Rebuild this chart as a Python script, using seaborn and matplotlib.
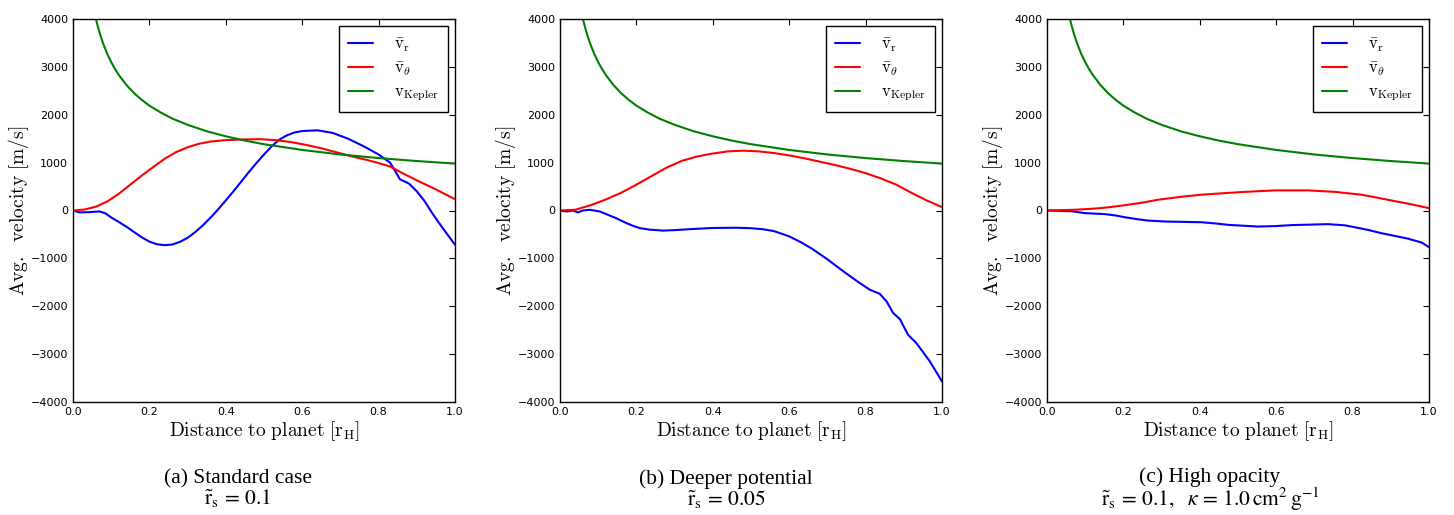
import numpy as np
import pandas as pd
import seaborn as sns
import matplotlib.pyplot as plt

# %%
# --- données ---
# vitesse képlérienne (identique pour les 3 cas)
x_kep = [0.055, 0.06, 0.065, 0.07, 0.075, 0.08, 0.09, 0.10, 0.11, 0.12, 0.14, 0.16, 0.18,
         0.20, 0.23, 0.26, 0.30, 0.35, 0.40, 0.45, 0.50, 0.60, 0.70, 0.80, 0.90, 1.00]
v_kep = [4180, 4000, 3845, 3705, 3580, 3465, 3265, 3100, 2955, 2830, 2620, 2450, 2310,
         2190, 2045, 1920, 1790, 1655, 1550, 1460, 1385, 1265, 1170, 1095, 1033, 980]

# (a) Standard case
xa_r = [0.0, 0.017, 0.04, 0.07, 0.085, 0.10, 0.12, 0.14, 0.16, 0.18, 0.20, 0.22, 0.24,
        0.26, 0.28, 0.30, 0.32, 0.34, 0.36, 0.38, 0.40, 0.42, 0.44, 0.46, 0.48, 0.50,
        0.52, 0.54, 0.56, 0.58, 0.60, 0.64, 0.68, 0.72, 0.76, 0.80, 0.83, 0.84, 0.856,
        0.87, 0.88, 0.90, 0.92, 0.94, 0.96, 0.98, 1.0]
va_r = [0, -40, -35, -20, -60, -145, -240, -340, -450, -560, -650, -705, -725,
        -710, -655, -570, -450, -310, -150, 25, 210, 400, 600, 800, 990, 1170,
        1340, 1480, 1570, 1630, 1660, 1675, 1620, 1500, 1345, 1170, 1000, 870, 650,
        600, 560, 400, 200, -50, -280, -500, -715]
xa_t = [0.0, 0.03, 0.06, 0.09, 0.12, 0.15, 0.18, 0.20, 0.24, 0.27, 0.30, 0.33, 0.36,
        0.40, 0.45, 0.49, 0.53, 0.57, 0.61, 0.65, 0.69, 0.73, 0.77, 0.80, 0.83, 0.86,
        0.90, 0.95, 1.0]
va_t = [0, 20, 80, 190, 350, 540, 730, 850, 1080, 1220, 1320, 1395, 1440,
        1470, 1485, 1490, 1470, 1430, 1370, 1300, 1215, 1130, 1055, 990, 920, 790,
        630, 440, 235]

# (b) Deeper potential
xb_r = [0.0, 0.017, 0.034, 0.047, 0.06, 0.078, 0.104, 0.147, 0.17, 0.191, 0.21, 0.235,
        0.27, 0.30, 0.34, 0.40, 0.46, 0.50, 0.53, 0.56, 0.60, 0.63, 0.66, 0.70, 0.74,
        0.78, 0.811, 0.837, 0.855, 0.872, 0.89, 0.911, 0.933, 0.968, 1.0]
vb_r = [0, -20, 0, -40, 0, 15, -20, -160, -250, -320, -370, -400,
        -420, -410, -390, -365, -360, -370, -390, -430, -540, -660, -800, -1020, -1260,
        -1490, -1655, -1740, -1900, -2140, -2270, -2595, -2770, -3150, -3570]
xb_t = [0.0, 0.04, 0.08, 0.12, 0.16, 0.20, 0.24, 0.28, 0.32, 0.36, 0.40, 0.44, 0.48,
        0.52, 0.56, 0.60, 0.64, 0.68, 0.72, 0.76, 0.80, 0.84, 0.88, 0.92, 0.96, 1.0]
vb_t = [0, 15, 110, 230, 370, 540, 720, 900, 1040, 1130, 1190, 1235, 1250,
        1235, 1200, 1150, 1090, 1020, 950, 870, 780, 670, 540, 370, 210, 70]

# (c) High opacity
xc_r = [0.0, 0.064, 0.099, 0.151, 0.18, 0.203, 0.235, 0.264, 0.308, 0.36, 0.404, 0.44,
        0.474, 0.552, 0.60, 0.64, 0.736, 0.78, 0.806, 0.84, 0.876, 0.91, 0.946, 0.981, 1.0]
vc_r = [0, -15, -55, -75, -105, -140, -180, -210, -230, -238, -245, -270,
        -300, -335, -325, -305, -285, -310, -350, -405, -475, -530, -590, -670, -765]
xc_t = [0.0, 0.072, 0.125, 0.165, 0.203, 0.25, 0.291, 0.35, 0.404, 0.46, 0.509, 0.596,
        0.683, 0.753, 0.823, 0.86, 0.901, 0.95, 1.0]
vc_t = [0, 15, 40, 70, 110, 165, 225, 285, 330, 360, 385, 420,
        420, 390, 330, 275, 210, 135, 50]

captions = [
    "(a) Standard case\n" + r"$\tilde{\mathrm{r}}_\mathrm{s}\, = \,0.1$",
    "(b) Deeper potential\n" + r"$\tilde{\mathrm{r}}_\mathrm{s}\, = \,0.05$",
    "(c) High opacity\n"
    + r"$\tilde{\mathrm{r}}_\mathrm{s}\, = \,0.1,\ \ \kappa\, = \,1.0\,\mathrm{cm}^2\,\mathrm{g}^{-1}$",
]
cap_x = [238, 726, 1210]  # centres des légendes (pixels)

panels = [(xa_r, va_r, xa_t, va_t), (xb_r, vb_r, xb_t, vb_t), (xc_r, vc_r, xc_t, vc_t)]

# %%
# --- style ---
sns.set_style("white")
plt.rcParams.update({
    "mathtext.fontset": "cm",
    "xtick.direction": "in", "ytick.direction": "in",
    "xtick.top": True, "ytick.right": True,
    "xtick.major.size": 4, "ytick.major.size": 4,
    "xtick.labelsize": 8, "ytick.labelsize": 8,
    "axes.edgecolor": "black", "axes.linewidth": 1.0,
    "xtick.color": "black", "ytick.color": "black",
    "text.color": "black", "axes.labelcolor": "black",
})
plt.rcParams["font.family"] = ["DejaVu Sans"]

W, H = 1454, 515
fig = plt.figure(figsize=(W / 100, H / 100), dpi=100)
lefts = [73, 560, 1047]
ax_w, top, bot = 382, 19, 402

for i, (xr, vr, xt, vt) in enumerate(panels):
    ax = fig.add_axes([lefts[i] / W, (H - bot) / H, ax_w / W, (bot - top) / H])
    sns.lineplot(x=xr, y=vr, ax=ax, color=(0, 0, 1), lw=1.5, sort=False,
                 label=r"$\bar{\mathrm{v}}_\mathrm{r}$")
    sns.lineplot(x=xt, y=vt, ax=ax, color=(1, 0, 0), lw=1.5, sort=False,
                 label=r"$\bar{\mathrm{v}}_\theta$")
    sns.lineplot(x=x_kep, y=v_kep, ax=ax, color=(0, 0.5, 0), lw=1.5, sort=False,
                 label=r"$\mathrm{v}_\mathrm{Kepler}$")
    ax.set_xlim(0, 1); ax.set_ylim(-4000, 4000)
    ax.set_xticks(np.arange(0, 1.01, 0.2)); ax.set_yticks(np.arange(-4000, 4001, 1000))
    ax.set_xticklabels([f"{t:.1f}" for t in np.arange(0, 1.01, 0.2)])
    ax.set_yticklabels([str(int(t)).replace("-", "\u2212") for t in np.arange(-4000, 4001, 1000)])
    ax.set_xlabel(r"$\mathrm{Distance\ to\ planet\ [r_H]}$", fontsize=14, labelpad=2)
    ax.set_ylabel(r"$\mathrm{Avg.\ \ velocity\ [m/s]}$", fontsize=14, labelpad=0)
    leg = ax.legend(loc="upper right", fontsize=12, frameon=True, fancybox=False,
                    handlelength=1.5, handletextpad=1.3, borderpad=0.5, labelspacing=0.3,
                    borderaxespad=0.45)
    leg.get_frame().set_edgecolor("black"); leg.get_frame().set_linewidth(1.0)
    leg.get_frame().set_alpha(1.0)

    fig.text(cap_x[i] / W, 1 - 490 / H, captions[i], ha="center", va="center",
             fontsize=15.5, family="Liberation Serif", math_fontfamily="stix",
             linespacing=0.95)

fig.savefig("out.png", dpi=100)
